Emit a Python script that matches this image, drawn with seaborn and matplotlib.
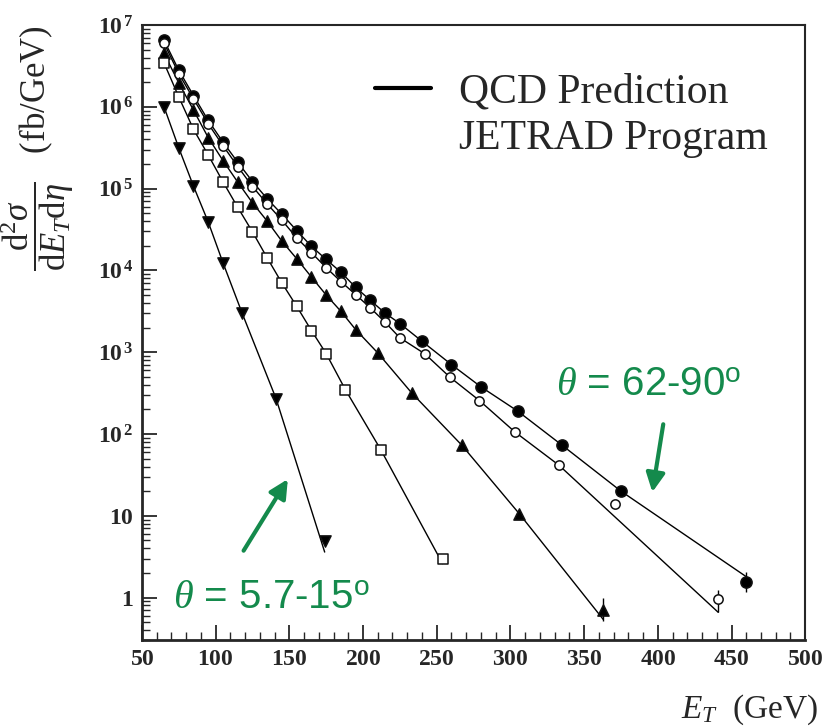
# Jet cross section vs E_T for five theta ranges, with JETRAD curves
import numpy as np
import pandas as pd
import matplotlib.pyplot as plt
import seaborn as sns
from matplotlib.ticker import MultipleLocator, LogLocator, FuncFormatter, NullFormatter
from matplotlib.lines import Line2D

# data (E_T in GeV, cross section in fb/GeV)
et_62_90 = [65, 75, 85, 95, 105, 115, 125, 135, 145, 155, 165, 175, 185, 195,
            205, 215, 225, 240, 260, 280, 305, 335, 375, 460]
xs_62_90 = [6.5e6, 2.8e6, 1.37e6, 6.8e5, 3.7e5, 2.1e5, 1.22e5, 7.5e4, 4.85e4, 3.07e4,
            1.97e4, 1.36e4, 9.5e3, 6.2e3, 4.3e3, 3.0e3, 2.24e3, 1.36e3, 705, 377,
            190, 73, 20, 1.56]

et_open = [65, 75, 85, 95, 105, 115, 125, 135, 145, 155, 165, 175, 185, 195,
           205, 215, 225, 242, 259, 279, 303, 333, 371, 441]
xs_open = [6.0e6, 2.55e6, 1.25e6, 6.2e5, 3.35e5, 1.86e5, 1.06e5, 6.5e4, 4.1e4, 2.5e4,
           1.65e4, 1.08e4, 7.3e3, 5.06e3, 3.48e3, 2.32e3, 1.5e3, 953, 494, 256,
           106, 41.4, 14.1, 0.97]

et_tri = [65, 75, 85, 95, 105, 115, 125, 135, 145, 155, 165, 175, 185, 195,
          210, 233, 267, 306, 363]
xs_tri = [4.5e6, 1.96e6, 9.1e5, 4.2e5, 2.2e5, 1.2e5, 6.7e4, 4.0e4, 2.27e4, 1.39e4,
          8.3e3, 5.0e3, 3.16e3, 1.89e3, 980, 318, 73, 10.6, 0.70]

et_sq = [65, 75, 85, 95, 105, 115, 125, 135, 145, 155, 165, 175, 188, 212, 254]
xs_sq = [3.44e6, 1.32e6, 5.3e5, 2.57e5, 1.21e5, 5.9e4, 2.96e4, 1.42e4, 7.0e3, 3.64e3,
         1.84e3, 961, 349, 64.5, 2.97]

et_5_15 = [65, 75, 85, 95, 105, 118, 141, 174]
xs_5_15 = [1.0e6, 3.15e5, 1.07e5, 3.9e4, 1.24e4, 3.0e3, 271, 4.9]

# JETRAD curves (same knots as data, ends read separately)
fit_et_62_90 = et_62_90
fit_xs_62_90 = xs_62_90[:-1] + [1.8]
fit_et_open = et_open[:-2] + [441]
fit_xs_open = xs_open[:-2] + [0.66]
fit_et_tri = et_tri
fit_xs_tri = xs_tri[:-1] + [0.54]
fit_et_sq = et_sq
fit_xs_sq = xs_sq[:-1] + [2.6]
fit_et_5_15 = et_5_15
fit_xs_5_15 = xs_5_15[:-1] + [3.6]

# error bars on the last point of each set (low, high)
err_62_90 = (0.38, 0.52)
err_open = (0.30, 0.28)
err_tri = (0.19, 0.30)

green = '#148a4c'

sns.set_style('ticks')
plt.rcParams['font.family'] = ['Liberation Serif', 'DejaVu Serif']
plt.rcParams['mathtext.fontset'] = 'custom'
plt.rcParams['mathtext.rm'] = 'Liberation Serif'
plt.rcParams['mathtext.it'] = 'Liberation Serif:italic'
plt.rcParams['mathtext.bf'] = 'Liberation Serif:bold'
plt.rcParams['mathtext.sf'] = 'Liberation Sans'

fig, ax = plt.subplots(figsize=(8.25, 7.26), dpi=100)
fig.subplots_adjust(left=0.172, right=0.976, bottom=0.118, top=0.9656)

series = [
    (fit_et_62_90, fit_xs_62_90, et_62_90, xs_62_90, 'o', 'black', 65),
    (fit_et_open, fit_xs_open, et_open, xs_open, 'o', 'white', 45),
    (fit_et_tri, fit_xs_tri, et_tri, xs_tri, '^', 'black', 65),
    (fit_et_sq, fit_xs_sq, et_sq, xs_sq, 's', 'white', 50),
    (fit_et_5_15, fit_xs_5_15, et_5_15, xs_5_15, 'v', 'black', 65),
]

for fx, fy, dx, dy, mk, face, size in series:
    sns.lineplot(x=fx, y=fy, color='black', lw=1.0, sort=False, estimator=None, ax=ax, zorder=2)
    sns.scatterplot(x=dx, y=dy, marker=mk, s=size, color=face, edgecolor='#111111',
                    linewidth=1.1, ax=ax, zorder=3)

for dx, dy, err in [(et_62_90, xs_62_90, err_62_90), (et_open, xs_open, err_open),
                    (et_tri, xs_tri, err_tri)]:
    ax.errorbar([dx[-1]], [dy[-1]], yerr=[[err[0]], [err[1]]], fmt='none',
                ecolor='black', elinewidth=1, zorder=2)

ax.set_yscale('log')
ax.set_xlim(50, 500)
ax.set_ylim(0.3, 1e7)

ax.xaxis.set_major_locator(MultipleLocator(50))
ax.xaxis.set_minor_locator(MultipleLocator(10))
ax.yaxis.set_major_locator(LogLocator(base=10, numticks=20))
ax.yaxis.set_minor_locator(LogLocator(base=10, subs=np.arange(2, 10), numticks=20))
ax.yaxis.set_minor_formatter(NullFormatter())


def ylab(v, pos):
    e = int(round(np.log10(v)))
    if e == 0:
        return r'$\mathbf{1}$'
    if e == 1:
        return r'$\mathbf{10}$'
    return r'$\mathbf{10^{\,%d}}$' % e


ax.yaxis.set_major_formatter(FuncFormatter(ylab))
ax.xaxis.set_major_formatter(FuncFormatter(lambda v, p: r'$\mathbf{%d}$' % v))

ax.tick_params(axis='both', which='major', direction='in', length=11, width=1.3,
               labelsize=17, top=False, right=False, pad=6)
ax.tick_params(axis='both', which='minor', direction='in', length=6, width=1.0,
               top=False, right=False)
for side in ['left', 'bottom']:
    ax.spines[side].set_linewidth(2.0)
for side in ['top', 'right']:
    ax.spines[side].set_linewidth(1.5)
    ax.spines[side].set_visible(True)

ax.set_ylabel(r'$\dfrac{\mathrm{d}^2\sigma}{\mathrm{d}E_T\mathrm{d}\eta}$   (fb/GeV)', fontsize=25)
ax.yaxis.set_label_coords(-0.10, 0.80)
ax.set_xlabel(r'$E_T$  (GeV)', fontsize=24, ha='right')
ax.xaxis.set_label_coords(1.02, -0.085)

handles = [Line2D([], [], color='black', lw=3), Line2D([], [], color='none')]
ax.legend(handles, ['QCD Prediction', 'JETRAD Program'], loc='upper left',
          bbox_to_anchor=(0.351, 0.922), frameon=False, fontsize=30,
          handlelength=1.35, handletextpad=0.67, labelspacing=0.2,
          borderpad=0, borderaxespad=0)

ax.annotate('', xy=(396, 18), xytext=(404, 142),
            arrowprops=dict(arrowstyle='-|>', color=green, lw=3, mutation_scale=28))
ax.text(394, 400, r'$\theta$ = 62-90$^{\mathsf{o}}$', color=green, fontsize=29,
        family='Liberation Sans', ha='center', va='center')
ax.annotate('', xy=(150, 30), xytext=(118, 3.5),
            arrowprops=dict(arrowstyle='-|>', color=green, lw=3, mutation_scale=28))
ax.text(138, 1.0, r'$\theta$ = 5.7-15$^{\mathsf{o}}$', color=green, fontsize=29,
        family='Liberation Sans', ha='center', va='center')

fig.savefig('out.png', dpi=100)
